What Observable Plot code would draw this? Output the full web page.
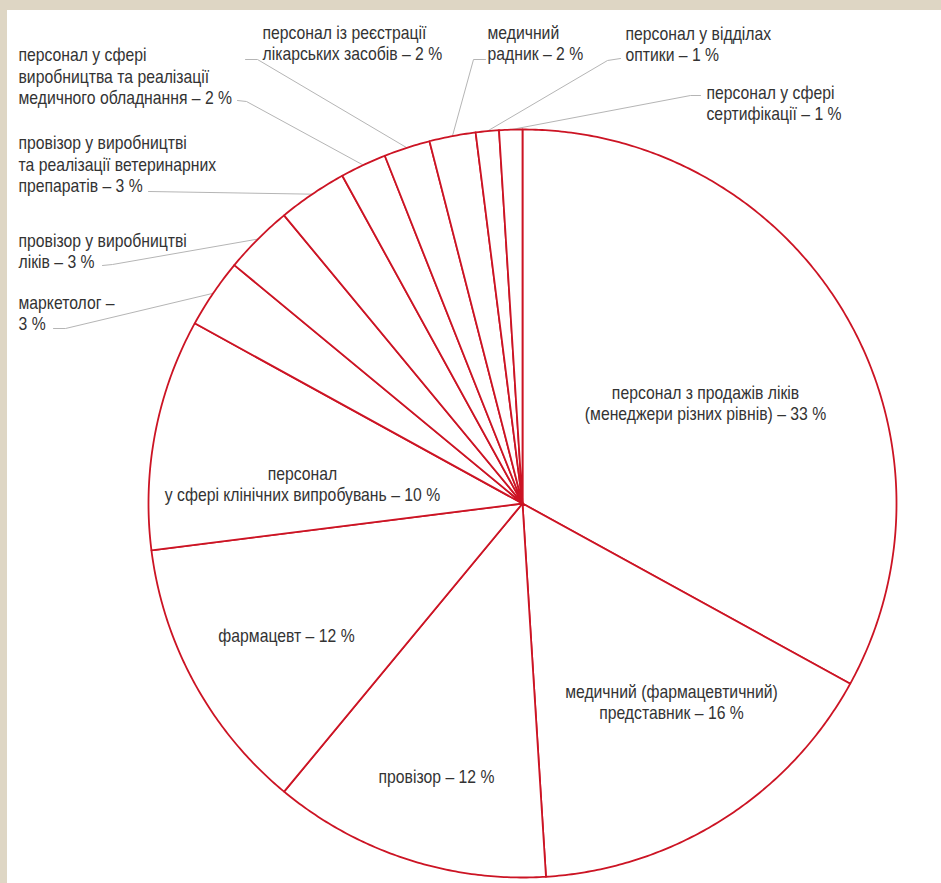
<!DOCTYPE html>
<html><head><meta charset="utf-8">
<script src="https://cdn.jsdelivr.net/npm/d3@7"></script>
<script src="https://cdn.jsdelivr.net/npm/@observablehq/plot@0.6"></script>
<style>
html,body{margin:0;padding:0;background:#ded6c4;width:941px;height:883px;overflow:hidden;}
#chart{position:absolute;left:7px;top:10px;width:934px;height:873px;background:#fff;}
</style></head><body><div id="chart"></div>
<script>
// ---- data (clockwise from 12 o'clock) ----
const categories = [
  "персонал з продажів ліків\n(менеджери різних рівнів) – 33 %",
  "медичний (фармацевтичний)\nпредставник – 16 %",
  "провізор – 12 %",
  "фармацевт – 12 %",
  "персонал\nу сфері клінічних випробувань – 10 %",
  "маркетолог –\n3 %",
  "провізор у виробництві\nліків – 3 %",
  "провізор у виробництві\nта реалізації ветеринарних\nпрепаратів – 3 %",
  "персонал у сфері\nвиробництва та реалізації\nмедичного обладнання – 2 %",
  "персонал із реєстрації\nлікарських засобів – 2 %",
  "медичний\nрадник – 2 %",
  "персонал у відділах\nоптики – 1 %",
  "персонал у сфері\nсертифікації – 1 %"
];
const shares = [33, 16, 12, 12, 10, 3, 3, 3, 2, 2, 2, 1, 1];

// ---- layout (page pixels) ----
const pie = {cx: 522, cy: 503, r: 374};
const labelLayout = [
  {x: 705, y: 402, anchor: "middle", leader: null},
  {x: 671, y: 701, anchor: "middle", leader: null},
  {x: 436, y: 775, anchor: "middle", leader: null},
  {x: 286, y: 634, anchor: "middle", leader: null},
  {x: 302, y: 483, anchor: "middle", leader: null},
  {x: 18, y: 312, anchor: "start", leader: [[53, 328], [65, 328]]},
  {x: 18, y: 250, anchor: "start", leader: [[102, 265], [112, 264]]},
  {x: 18, y: 163, anchor: "start", leader: [[148, 191]]},
  {x: 18, y: 75, anchor: "start", leader: [[237, 100], [246, 101]]},
  {x: 262, y: 42, anchor: "start", leader: [[245, 59], [257, 59]]},
  {x: 487, y: 42, anchor: "start", leader: [[485, 59], [473, 59]]},
  {x: 625, y: 43, anchor: "start", leader: [[620, 58], [607, 60]]},
  {x: 706, y: 102, anchor: "start", leader: [[700, 95], [690, 95]]}
];

const total = d3.sum(shares);
const cum = d3.cumsum(shares);
const polar = (frac, rr) => {
  const t = frac * 2 * Math.PI;
  return [pie.cx + rr * Math.sin(t), pie.cy - rr * Math.cos(t)];
};

// wedges
const wedgePts = [];
shares.forEach((v, i) => {
  const f0 = (cum[i] - v) / total, f1 = cum[i] / total;
  const n = Math.max(4, Math.ceil((f1 - f0) * 720));
  wedgePts.push({i, p: [pie.cx, pie.cy]});
  for (let k = 0; k <= n; k++) wedgePts.push({i, p: polar(f0 + (f1 - f0) * k / n, pie.r)});
  wedgePts.push({i, p: [pie.cx, pie.cy]});
});

// leaders
const leaderPts = [];
shares.forEach((v, i) => {
  const L = labelLayout[i].leader;
  if (!L) return;
  const mid = (cum[i] - v / 2) / total;
  L.forEach(p => leaderPts.push({i, p}));
  leaderPts.push({i, p: polar(mid, pie.r)});
});

const labels = categories.map((t, i) => ({text: t, ...labelLayout[i]}));
const font = "'Liberation Sans',Arial,sans-serif";

const chart = Plot.plot({
  width: 934, height: 873,
  margin: 0,
  x: {domain: [7, 941], range: [0, 934], axis: null},
  y: {domain: [10, 883], range: [0, 873], axis: null},
  style: {background: "#fff", overflow: "visible"},
  marks: [
    Plot.line(leaderPts, {x: d => d.p[0], y: d => d.p[1], z: "i", stroke: "#b5b5b5", strokeWidth: 1, curve: "linear"}),
    Plot.line(wedgePts, {x: d => d.p[0], y: d => d.p[1], z: "i", stroke: "#cc1424", strokeWidth: 1.8, fill: "#fff", strokeLinejoin: "round", curve: "linear"}),
    Plot.text(labels.filter(d => d.anchor === "start"), {x: "x", y: "y", text: "text", textAnchor: "start", lineAnchor: "middle", lineHeight: 1.22, fontSize: 18, fontFamily: font, fill: "#333"}),
    Plot.text(labels.filter(d => d.anchor === "middle"), {x: "x", y: "y", text: "text", textAnchor: "middle", lineAnchor: "middle", lineHeight: 1.22, fontSize: 18, fontFamily: font, fill: "#333"})
  ]
});
// condensed look (Arial Narrow style): horizontal squeeze about each label's anchor
chart.querySelectorAll("text").forEach(t => {
  const tr = t.getAttribute("transform");
  if (tr && tr.includes("translate")) {
    t.setAttribute("transform", tr + " scale(0.875,1)");
  } else {
    const x = +(t.getAttribute("x") || 0), y = +(t.getAttribute("y") || 0);
    t.removeAttribute("x"); t.removeAttribute("y");
    t.setAttribute("transform", `translate(${x},${y}) scale(0.875,1)`);
  }
});
document.getElementById("chart").appendChild(chart);
</script>
</body></html>
